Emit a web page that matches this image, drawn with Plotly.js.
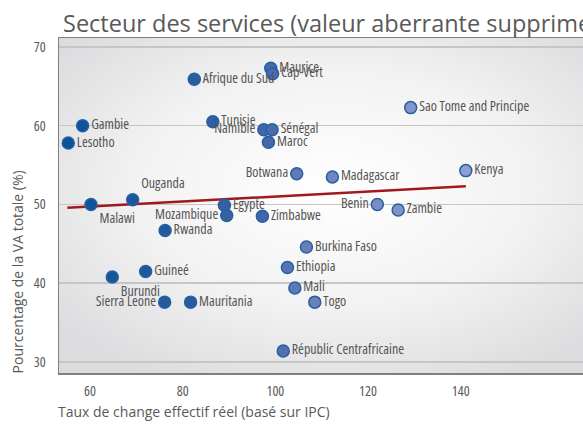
<!DOCTYPE html>
<html>
<head>
<meta charset="utf-8">
<script src="https://cdn.plot.ly/plotly-3.0.1.min.js"></script>
<style>
html,body{margin:0;padding:0;background:#fff;overflow:hidden;width:583px;height:428px;}
#chart{width:640px;height:428px;}
svg text{font-stretch:79%;}
svg text.gtitle, svg text.annotation-text{font-stretch:100%;}
</style>
</head>
<body>
<div id="chart"></div>
<script>
const countries = ["Lesotho","Gambie","Malawi","Ouganda","Afrique du Sud","Maurice","Cap-Vert","Tunisie","Namibie","Sénégal","Maroc","Botwana","Madagascar","Kenya","Sao Tome and Principe","Benin","Zambie","Egypte","Mozambique","Zimbabwe","Rwanda","Guineé","Burundi","Sierra Leone","Mauritania","Républic Centrafricaine","Burkina Faso","Ethiopia","Mali","Togo"];
const reer = [55.3,58.4,60.2,69.2,82.5,99.0,99.4,86.5,97.5,99.3,98.5,104.6,112.3,141.1,129.2,122.0,126.5,89.0,89.5,97.2,76.2,72.0,64.8,76.1,81.7,101.7,106.7,102.6,104.2,108.5];
const vaShare = [57.8,60.0,50.0,50.6,65.9,67.3,66.6,60.5,59.5,59.5,57.9,53.9,53.5,54.3,62.3,50.0,49.3,49.9,48.6,48.5,46.7,41.5,40.8,37.6,37.6,31.4,44.6,42.0,39.4,37.6];
const labelPos = ["middle right","middle right","bottom right","top right","middle right","middle right","middle right","middle right","middle left","middle right","middle right","middle left","middle right","middle right","middle right","middle left","middle right","middle right","middle left","middle right","middle right","middle right","bottom right","middle left","middle right","middle right","middle right","middle right","middle right","middle right"];
const trendX = [55.1, 141.1];
const trendY = [49.6, 52.3];
const xTicks = [60, 80, 100, 120, 140];
const yTicks = [30, 40, 50, 60, 70];

const narrow = "'Open Sans',sans-serif";
const W = 640, H = 428;
const L = 59.3, T = 38.3, B = H - 373.3, R = W - 609;

const svg = '<svg xmlns="http://www.w3.org/2000/svg" width="100" height="100" preserveAspectRatio="none" viewBox="0 0 100 100">' +
  '<defs><radialGradient id="g" cx="50%" cy="45%" r="65%">' +
  '<stop offset="0" stop-color="#ffffff"/><stop offset="0.55" stop-color="#f2f2f3"/><stop offset="1" stop-color="#dcdcde"/>' +
  '</radialGradient></defs><rect width="100" height="100" fill="url(#g)"/></svg>';
const bg = 'data:image/svg+xml;charset=utf-8,' + encodeURIComponent(svg);

const traces = [
  {
    x: trendX, y: trendY, mode: 'lines', type: 'scatter',
    line: {color: '#a0191f', width: 2.5}, hoverinfo: 'skip', showlegend: false
  },
  {
    x: reer, y: vaShare, text: countries, mode: 'markers+text', type: 'scatter',
    textposition: labelPos,
    textfont: {family: narrow, size: 14, color: '#555555'},
    marker: {
      size: 12,
      color: reer, cmin: 55, cmax: 141,
      colorscale: [[0, '#0b5296'], [0.3, '#2a5a9d'], [0.5, '#4466a8'], [0.6, '#6a7fb9'], [1, '#8e9fd0']],
      line: {color: '#2461a4', width: 1.5}
    },
    showlegend: false
  }
];

const layout = {
  width: W, height: H,
  margin: {l: L, r: R, t: T, b: B, pad: 0},
  paper_bgcolor: '#ffffff',
  plot_bgcolor: 'rgba(0,0,0,0)',
  showlegend: false,
  title: {
    text: 'Secteur des services (valeur aberrante supprimée)',
    font: {family: "'Open Sans','Noto Sans',sans-serif", size: 23.5, color: '#595959'},
    x: 63 / W, xanchor: 'left', xref: 'container',
    y: 1 - 24 / H, yanchor: 'middle', yref: 'container'
  },
  xaxis: {
    range: [53.3, 172], tickvals: xTicks, ticktext: xTicks.map(String),
    showgrid: false, zeroline: false, ticks: '',
    showline: true, linecolor: '#7f7f7f', linewidth: 1.5, mirror: true,
    tickfont: {family: narrow, size: 14, color: '#595959'},
    ticklabelstandoff: 5
  },
  yaxis: {
    range: [28.6, 71.14], tickvals: yTicks, ticktext: yTicks.map(String),
    showgrid: true, gridcolor: '#c6c6c6', gridwidth: 1.5, zeroline: false, ticks: '',
    showline: true, linecolor: '#7f7f7f', linewidth: 1.5, mirror: true,
    tickfont: {family: narrow, size: 14, color: '#595959'},
    ticklabelstandoff: 9
  },
  images: [{
    source: bg, xref: 'paper', yref: 'paper', x: 0, y: 1, sizex: 1, sizey: 1,
    xanchor: 'left', yanchor: 'top', sizing: 'stretch', layer: 'below'
  }],
  annotations: [
    {
      text: 'Taux de change effectif réel (basé sur IPC)', showarrow: false,
      xref: 'paper', yref: 'paper',
      x: (56 - L) / (W - L - R), xanchor: 'left',
      y: -(412 - 373.3) / (373.3 - T), yanchor: 'middle',
      font: {family: narrow, size: 14, color: '#595959'}
    },
    {
      text: 'Pourcentage de la VA totale (%)', showarrow: false, textangle: -90,
      xref: 'paper', yref: 'paper',
      x: (18 - L) / (W - L - R), xanchor: 'center',
      y: (373.3 - 272) / (373.3 - T), yanchor: 'middle',
      font: {family: narrow, size: 14, color: '#595959'}
    }
  ]
};

Plotly.newPlot('chart', traces, layout, {staticPlot: true, displayModeBar: false});
</script>
</body>
</html>
